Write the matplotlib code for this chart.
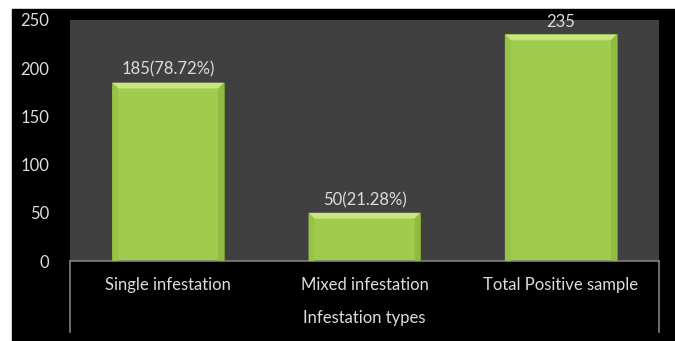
import matplotlib
matplotlib.use("Agg")
import matplotlib.pyplot as plt
from matplotlib.patches import Rectangle, Polygon

categories = ["Single infestation", "Mixed infestation", "Total Positive sample"]
counts = [185, 50, 235]
bar_labels = ["185(78.72%)", "50(21.28%)", "235"]
yticks = [0, 50, 100, 150, 200, 250]
xlabel = "Infestation types"

plt.rcParams["font.family"] = ["Lato", "DejaVu Sans"]
text_color = "#dcdcdc"

W, H = 675, 341
fig = plt.figure(figsize=(W / 100, H / 100), dpi=100)
fig.patch.set_facecolor("white")
# black chart background under the white strip at the top
fig.patches.append(Rectangle((12 / W, 0), 1 - 12 / W, (H - 9) / H,
                             transform=fig.transFigure, color="black", zorder=-5))

left, right, top, bottom = 70, 659, 20, 261
ax = fig.add_axes([left / W, (H - bottom) / H, (right - left) / W, (bottom - top) / H])
ax.set_facecolor("#404040")

x = list(range(len(categories)))
width = 0.57
ax.bar(x, counts, width=width, color="#a0cc4e", edgecolor="#6f9a2a", linewidth=0.6, zorder=2)

# bevel at the top and sides of each bar
dy = 6
dx = 0.03
for xi, h in zip(x, counts):
    ax.add_patch(Polygon([(xi - width / 2, h), (xi + width / 2, h),
                          (xi + width / 2 - dx, h - dy), (xi - width / 2 + dx, h - dy)],
                         closed=True, color="#c8e680", zorder=3, lw=0))
    ax.add_patch(Polygon([(xi - width / 2, 0), (xi - width / 2, h),
                          (xi - width / 2 + dx, h - dy), (xi - width / 2 + dx, 0)],
                         closed=True, color="#97c347", zorder=3, lw=0))
    ax.add_patch(Polygon([(xi + width / 2, 0), (xi + width / 2, h),
                          (xi + width / 2 - dx, h - dy), (xi + width / 2 - dx, 0)],
                         closed=True, color="#90ba42", zorder=3, lw=0))

fs = 12
for xi, h, lab in zip(x, counts, bar_labels):
    ax.text(xi, h + 5, lab, ha="center", va="bottom", color=text_color, fontsize=fs)

ax.set_xlim(-0.5, len(categories) - 0.5)
ax.set_ylim(0, 250)
ax.set_yticks(yticks)
ax.set_yticklabels([str(t) for t in yticks], color=text_color, fontsize=fs)
ax.tick_params(axis="y", length=0, pad=15)
ax.set_xticks([])
for s in ["top", "right", "left"]:
    ax.spines[s].set_visible(False)
ax.spines["bottom"].set_color("#808080")
ax.spines["bottom"].set_linewidth(1.2)

# table-like lines under the axis
table_bottom = -(332 - bottom) / (bottom - top)
for xe in [-0.5, len(categories) - 0.5]:
    ax.plot([xe, xe], [0, table_bottom], color="#808080", lw=1.2,
            transform=ax.get_xaxis_transform(), clip_on=False)

for xi, cat in zip(x, categories):
    ax.text(xi, -(285 - bottom) / (bottom - top), cat, ha="center", va="center",
            color=text_color, fontsize=fs, transform=ax.get_xaxis_transform())
ax.text(0.5, -(318 - bottom) / (bottom - top), xlabel, ha="center", va="center",
        color=text_color, fontsize=fs, transform=ax.transAxes)

fig.savefig("out.png", dpi=100, facecolor=fig.get_facecolor())
